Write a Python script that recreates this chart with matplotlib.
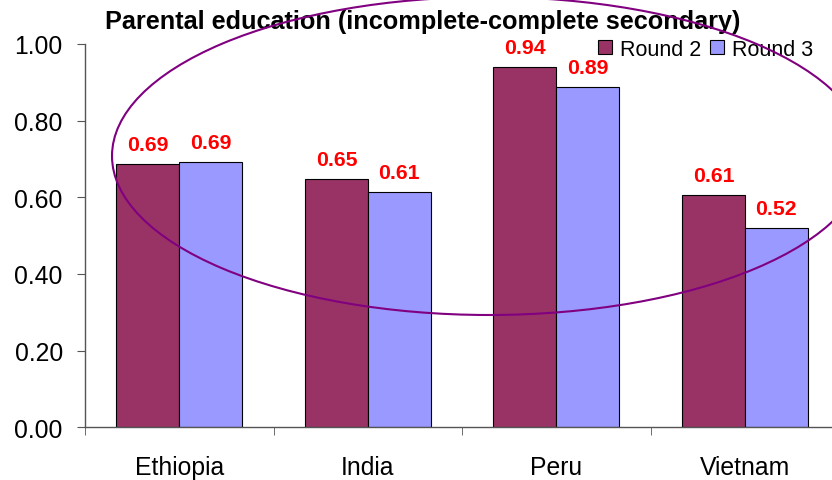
import matplotlib
matplotlib.use("Agg")
import matplotlib.pyplot as plt
from matplotlib.patches import Ellipse
import numpy as np

plt.rcParams['font.family'] = ['Liberation Sans', 'DejaVu Sans']

countries = ["Ethiopia", "India", "Peru", "Vietnam"]
round2 = [0.687, 0.648, 0.940, 0.606]
round3 = [0.693, 0.613, 0.888, 0.519]
series_names = ["Round 2", "Round 3"]
yticks = [0.0, 0.2, 0.4, 0.6, 0.8, 1.0]

fig = plt.figure(figsize=(8.32, 4.81), dpi=100)
ax = fig.add_axes([0.1022, 0.1096, 0.9063, 0.7969])

x = np.arange(len(countries))
w = 1 / 3
b2 = ax.bar(x - w / 2, round2, w, color='#993366', edgecolor='black', linewidth=0.8, label=series_names[0])
b3 = ax.bar(x + w / 2, round3, w, color='#9999FF', edgecolor='black', linewidth=0.8, label=series_names[1])

for bars, vals in ((b2, round2), (b3, round3)):
    for rect, v in zip(bars, vals):
        ax.annotate(f"{v:.2f}", (rect.get_x() + rect.get_width() / 2, v),
                    xytext=(0, 10), textcoords='offset points',
                    ha='center', va='baseline', color='red',
                    fontsize=15.3, fontweight='bold')

ax.set_xlim(-0.5, 3.5)
ax.set_ylim(0, 1.0)
ax.set_yticks(yticks)
ax.set_yticklabels([f"{t:.2f}" for t in yticks])
ax.set_xticks(x)
ax.set_xticklabels(countries)
ax.set_xticks(np.arange(-0.5, 4.0, 1.0), minor=True)
ax.tick_params(axis='x', which='major', length=0, pad=20, labelsize=17.8)
ax.tick_params(axis='x', which='minor', length=6, direction='out', color='#555555')
ax.tick_params(axis='y', length=6, direction='out', color='#555555', pad=10, labelsize=17.8)

for s in ('top', 'right'):
    ax.spines[s].set_visible(False)
for s in ('left', 'bottom'):
    ax.spines[s].set_color('#555555')
    ax.spines[s].set_linewidth(1.0)

fig.text(423 / 832, 1 - 22 / 481, "Parental education (incomplete-complete secondary)",
         ha='center', va='center', fontsize=18.2, fontweight='bold')

fig.legend(handles=[b2, b3], labels=series_names, loc='center left',
           bbox_to_anchor=(598 / 832, 1 - 50 / 481), ncol=2, frameon=False,
           fontsize=15.5, handlelength=0.65, handleheight=0.65,
           handletextpad=0.35, columnspacing=0.45, borderpad=0, borderaxespad=0)

# hand-drawn style ring around the bars
ring = Ellipse((489 / 832, 1 - 157 / 481), 754 / 832, 318 / 481,
               transform=fig.transFigure, fill=False, edgecolor='#800080',
               linewidth=1.5, clip_on=False, zorder=10)
fig.patches.append(ring)

fig.savefig("out.png", dpi=100)
